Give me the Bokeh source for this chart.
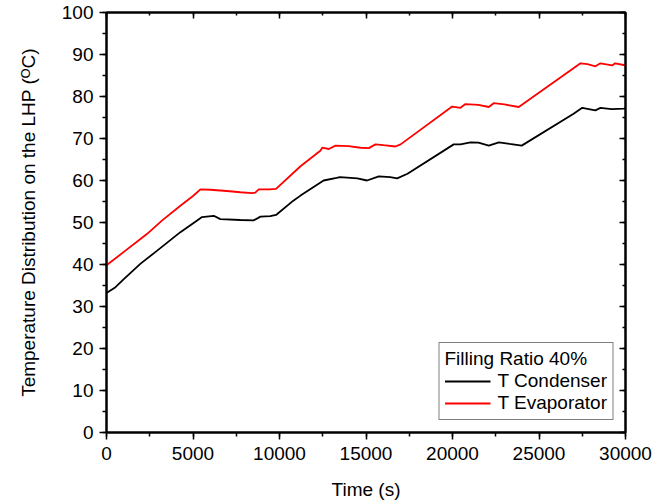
import numpy as np
from bokeh.plotting import figure
from bokeh.models import Range1d, SingleIntervalTicker, LinearAxis, Legend, LegendItem
from bokeh.embed import file_html
from bokeh.resources import INLINE

# Evaporator temperature (red)
time_evap = [0, 1000, 2000, 2350, 3220, 4270, 5000, 5430, 6000, 6960, 7740, 8400, 8600, 8800,
             9430, 9800, 11214, 12360, 12470, 12850, 13240, 14000, 14680, 15160, 15550,
             16000, 16700, 17000, 19980, 20460, 20750, 21500, 22100, 22380, 23000, 23830,
             27400, 27800, 28260, 28550, 29230, 29400, 29900, 30000]
temp_evap = [39.8, 43.0, 46.2, 47.3, 50.5, 54.0, 56.3, 57.9, 57.8, 57.5, 57.2, 57.0, 57.1, 57.9,
             57.9, 58.0, 63.4, 67.1, 67.8, 67.5, 68.3, 68.2, 67.8, 67.7, 68.6,
             68.4, 68.1, 68.6, 77.6, 77.3, 78.2, 78.0, 77.5, 78.4, 78.1, 77.5,
             87.9, 87.7, 87.2, 87.9, 87.4, 87.9, 87.5, 87.5]

# Condenser temperature (black)
time_cond = [0, 520, 1000, 1970, 2930, 4270, 5240, 5520, 6200, 6580, 7740, 8500, 8900, 9470,
             9800, 10800, 11214, 12550, 13300, 13500, 14500, 15060, 15740, 16400, 16800, 17400,
             20070, 20460, 21040, 21500, 22100, 22680, 23300, 24000, 27000, 27500, 28260,
             28550, 29200, 29900, 30000]
temp_cond = [33.2, 34.6, 36.5, 40.2, 43.3, 47.7, 50.5, 51.3, 51.6, 50.8, 50.6, 50.5, 51.4, 51.5,
             51.8, 55.2, 56.4, 60.0, 60.6, 60.8, 60.5, 60.0, 61.0, 60.8, 60.5, 61.6,
             68.6, 68.6, 69.1, 69.0, 68.3, 69.1, 68.7, 68.3, 75.9, 77.3, 76.7,
             77.3, 77.0, 77.1, 77.2]

x_label = "Time (s)"
y_label = "Temperature Distribution on the LHP (\u1D3CC)"
legend_title = "Filling Ratio 40%"
series_names = ["T Condenser", "T Evaporator"]

FONT = "Liberation Sans"

p = figure(width=666, height=502, output_backend="svg", toolbar_location=None,
           x_range=Range1d(0, 30000), y_range=Range1d(0, 100),
           min_border_left=106, min_border_right=41, min_border_top=12, min_border_bottom=70,
           background_fill_color="white", border_fill_color="white")
p.grid.visible = False
p.outline_line_color = "black"
p.outline_line_width = 2

def style_axis(ax, show_labels=True, inward=False):
    ax.axis_line_color = "black"
    ax.axis_line_width = 2
    ax.major_tick_line_color = "black"
    ax.minor_tick_line_color = "black"
    ax.major_tick_line_width = 1.5
    ax.minor_tick_line_width = 1.5
    if inward:
        ax.major_tick_in = 6
        ax.major_tick_out = 0
        ax.minor_tick_in = 3
        ax.minor_tick_out = 0
    else:
        ax.major_tick_in = 0
        ax.major_tick_out = 7
        ax.minor_tick_in = 0
        ax.minor_tick_out = 4
    if show_labels:
        ax.major_label_text_font = FONT
        ax.major_label_text_font_size = "19px"
        ax.major_label_text_color = "black"
        ax.axis_label_text_font = FONT
        ax.axis_label_text_font_size = "19px"
        ax.axis_label_text_font_style = "normal"
        ax.axis_label_text_color = "black"
    else:
        ax.major_label_text_font_size = "0px"
        ax.major_label_text_alpha = 0
        ax.major_label_standoff = 0

xtick = SingleIntervalTicker(interval=5000, num_minor_ticks=2)
ytick = SingleIntervalTicker(interval=10, num_minor_ticks=2)

p.xaxis.ticker = xtick
p.yaxis.ticker = ytick
for ax in p.xaxis:
    style_axis(ax)
    ax.axis_label = x_label
    ax.major_label_standoff = 7
    ax.axis_label_standoff = 16
for ax in p.yaxis:
    style_axis(ax)
    ax.axis_label = y_label
    ax.major_label_standoff = 6
    ax.axis_label_standoff = 20

top_ax = LinearAxis(ticker=SingleIntervalTicker(interval=5000, num_minor_ticks=2))
style_axis(top_ax, show_labels=False, inward=True)
p.add_layout(top_ax, "above")
right_ax = LinearAxis(ticker=SingleIntervalTicker(interval=10, num_minor_ticks=2))
style_axis(right_ax, show_labels=False, inward=True)
p.add_layout(right_ax, "right")

r_cond = p.line(time_cond, temp_cond, line_color="black", line_width=1.8)
r_evap = p.line(time_evap, temp_evap, line_color="#ff0000", line_width=1.8)

legend = Legend(items=[LegendItem(label=series_names[0], renderers=[r_cond]),
                       LegendItem(label=series_names[1], renderers=[r_evap])],
                location="bottom_right", title=legend_title)
legend.title_text_font = FONT
legend.title_text_font_size = "19px"
legend.title_text_font_style = "normal"
legend.title_text_color = "black"
legend.label_text_font = FONT
legend.label_text_font_size = "19px"
legend.label_text_color = "black"
legend.border_line_color = "black"
legend.border_line_width = 1
legend.background_fill_alpha = 1
legend.glyph_width = 46
legend.label_standoff = 7
legend.padding = 5
legend.spacing = 0
legend.margin = 12
legend.title_standoff = 0
p.add_layout(legend)

open("out.html", "w").write(file_html(p, INLINE))
